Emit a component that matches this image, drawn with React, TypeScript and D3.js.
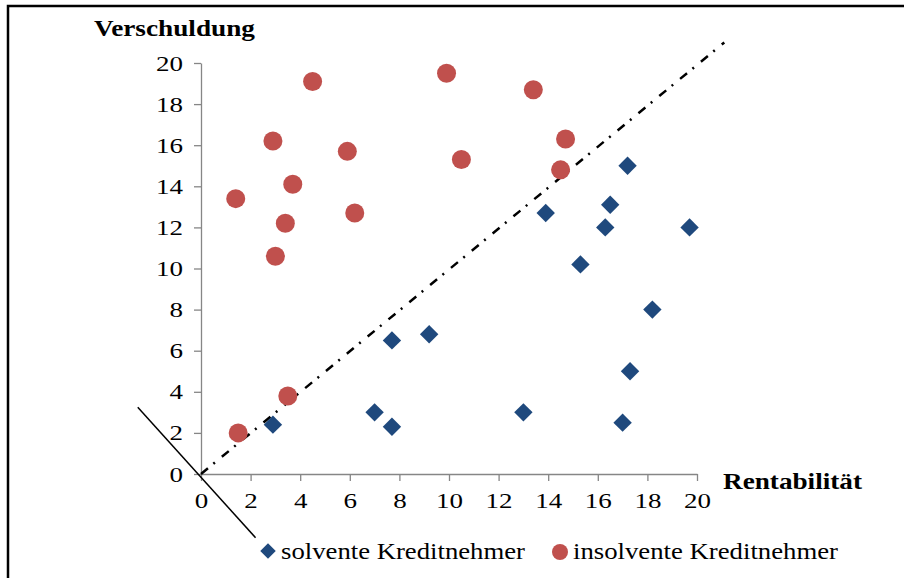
import { useEffect, useRef } from "react";
import * as d3 from "d3";

// solvente Kreditnehmer (blue diamonds)
const solventX = [2.9, 7.0, 7.7, 7.7, 9.2, 13.0, 17.0, 17.3, 18.2, 13.9, 17.2, 16.5, 16.3, 19.7, 15.3];
const solventY = [2.4, 3.0, 2.3, 6.5, 6.8, 3.0, 2.5, 5.0, 8.0, 12.7, 15.0, 13.1, 12.0, 12.0, 10.2];

// insolvente Kreditnehmer (red circles)
const insolventX = [1.4, 2.9, 4.5, 3.7, 3.4, 3.0, 5.9, 6.2, 9.9, 13.4, 10.5, 14.7, 14.5, 3.5, 1.5];
const insolventY = [13.4, 16.2, 19.1, 14.1, 12.2, 10.6, 15.7, 12.7, 19.5, 18.7, 15.3, 16.3, 14.8, 3.8, 2.0];

const xTicks = [0, 2, 4, 6, 8, 10, 12, 14, 16, 18, 20];
const yTicks = [0, 2, 4, 6, 8, 10, 12, 14, 16, 18, 20];

// dividing line and its perpendicular, in data units
const diagLine: [number, number][] = [[0, 0], [21.1, 21.0]];
const crossLine: [number, number][] = [[-2.55, 3.25], [2.2, -3.1]];

const FONT = "'Liberation Serif', 'Times New Roman', serif";
const BLUE = "#1F497D";
const RED = "#C0504D";

export default function App() {
  const svgRef = useRef<SVGSVGElement | null>(null);

  useEffect(() => {
    document.body.style.margin = "0";
    if (!svgRef.current) return;
    const width = 904;
    const height = 578;
    const svg = d3.select(svgRef.current);
    svg.selectAll("*").remove();

    const x = d3.scaleLinear().domain([0, 20]).range([201, 697]);
    const y = d3.scaleLinear().domain([0, 20]).range([474, 63]);

    svg.append("rect").attr("width", width).attr("height", height).attr("fill", "#fff");

    // frame (top + left only visible)
    svg.append("path")
      .attr("d", `M8,${height} L8,6 L${width},6`)
      .attr("fill", "none")
      .attr("stroke", "#000")
      .attr("stroke-width", 2.5);

    // axes
    const axisColor = "#868686";
    const xAxis = svg.append("g")
      .attr("transform", `translate(0,${y(0)})`)
      .call(d3.axisBottom(x).tickValues(xTicks).tickSize(7).tickSizeOuter(0).tickPadding(11));
    const yAxis = svg.append("g")
      .attr("transform", `translate(${x(0)},0)`)
      .call(d3.axisLeft(y).tickValues(yTicks).tickSize(7).tickSizeOuter(0).tickPadding(11));
    [xAxis, yAxis].forEach((g) => {
      g.select(".domain").attr("stroke", axisColor).attr("stroke-width", 1.3);
      g.selectAll(".tick line").attr("stroke", axisColor).attr("stroke-width", 1.3);
      g.selectAll<SVGTextElement, number>("text")
        .attr("fill", "#000")
        .attr("font-family", FONT)
        .attr("font-size", 22)
        .attr("textLength", (d) => String(d).length * 13.5)
        .attr("lengthAdjust", "spacingAndGlyphs");
    });
    xAxis.selectAll("text").attr("dy", "0.71em");

    const line = d3.line<[number, number]>().x((d) => x(d[0])).y((d) => y(d[1]));

    svg.append("path")
      .attr("d", line(diagLine))
      .attr("fill", "none")
      .attr("stroke", "#000")
      .attr("stroke-width", 2.5)
      .attr("stroke-dasharray", "9 7 2 9");

    svg.append("path")
      .attr("d", line(crossLine))
      .attr("fill", "none")
      .attr("stroke", "#000")
      .attr("stroke-width", 1.5);

    // points
    const diamond = d3.symbol().type(d3.symbolSquare).size(13 * 13);
    svg.append("g")
      .selectAll("path")
      .data(d3.range(solventX.length))
      .join("path")
      .attr("d", diamond)
      .attr("transform", (i) => `translate(${x(solventX[i])},${y(solventY[i])}) rotate(45)`)
      .attr("fill", BLUE);

    svg.append("g")
      .selectAll("circle")
      .data(d3.range(insolventX.length))
      .join("circle")
      .attr("cx", (i) => x(insolventX[i]))
      .attr("cy", (i) => y(insolventY[i]))
      .attr("r", 9.5)
      .attr("fill", RED);

    // axis titles
    svg.append("text")
      .attr("x", 94)
      .attr("y", 36)
      .attr("font-family", FONT)
      .attr("font-weight", "bold")
      .attr("font-size", 24)
      .attr("textLength", 161)
      .attr("lengthAdjust", "spacingAndGlyphs")
      .text("Verschuldung");

    svg.append("text")
      .attr("x", 723)
      .attr("y", 489)
      .attr("font-family", FONT)
      .attr("font-weight", "bold")
      .attr("font-size", 24)
      .attr("textLength", 139)
      .attr("lengthAdjust", "spacingAndGlyphs")
      .text("Rentabilität");

    // legend
    const leg = svg.append("g");
    leg.append("path")
      .attr("d", d3.symbol().type(d3.symbolSquare).size(11 * 11)())
      .attr("transform", "translate(268,551) rotate(45)")
      .attr("fill", BLUE);
    leg.append("text")
      .attr("x", 281)
      .attr("y", 559)
      .attr("font-family", FONT)
      .attr("font-size", 23)
      .attr("textLength", 244)
      .attr("lengthAdjust", "spacingAndGlyphs")
      .text("solvente Kreditnehmer");
    leg.append("circle")
      .attr("cx", 560)
      .attr("cy", 552)
      .attr("r", 8)
      .attr("fill", RED);
    leg.append("text")
      .attr("x", 573)
      .attr("y", 559)
      .attr("font-family", FONT)
      .attr("font-size", 23)
      .attr("textLength", 265)
      .attr("lengthAdjust", "spacingAndGlyphs")
      .text("insolvente Kreditnehmer");
  }, []);

  return <svg ref={svgRef} width={904} height={578} style={{ display: "block" }} />;
}
